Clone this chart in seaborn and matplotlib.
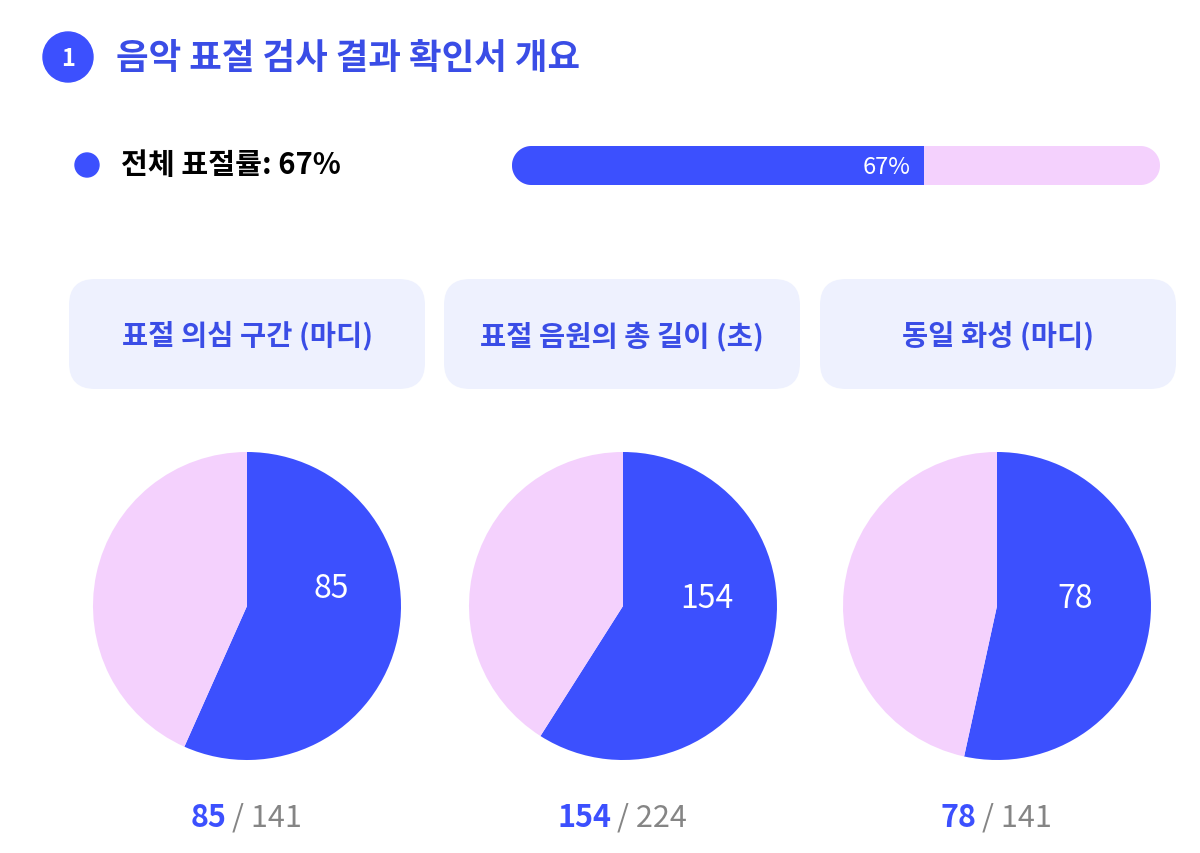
import matplotlib
matplotlib.use("Agg")
import numpy as np
import matplotlib.pyplot as plt
import seaborn as sns
import pandas as pd
from matplotlib.patches import FancyBboxPatch, Circle, Polygon
from matplotlib.offsetbox import TextArea, HPacker, AnnotationBbox

# 데이터
title = "음악 표절 검사 결과 확인서 개요"
overall_label = "전체 표절률"
overall_rate = 67
categories = ["표절 의심 구간 (마디)", "표절 음원의 총 길이 (초)", "동일 화성 (마디)"]
matched = [85, 154, 78]
totals = [141, 224, 141]
pie_rest = [65, 107, 68]  # 그림의 부채꼴 각도에서 읽은 값

# 색상
BLUE = "#3C50FE"
PINK = "#F4D1FD"
BOX = "#EEF1FE"
TEXT_BLUE = "#3A4DE6"
GRAY = "#858585"

sns.set_theme(style="white")
plt.rcParams["font.family"] = ["Noto Sans CJK KR", "DejaVu Sans"]

W, H = 1200, 854
fig = plt.figure(figsize=(W / 100, H / 100), dpi=100)
fig.patch.set_facecolor("white")

# 배경 축 (픽셀 좌표)
bg = fig.add_axes([0, 0, 1, 1])
bg.set_xlim(0, W)
bg.set_ylim(H, 0)
bg.axis("off")

# 제목
bg.add_patch(Circle((68, 58), 25, color=BLUE))
bg.text(68, 59, "1", color="white", fontsize=17, fontweight="bold", ha="center", va="center")
bg.text(116, 59, title, color=TEXT_BLUE, fontsize=25.5, fontweight="bold", ha="left", va="center")

# 전체 표절률
bg.add_patch(Circle((87, 166), 12, color=BLUE))
bg.text(121, 165, f"{overall_label}: {overall_rate}%", color="black", fontsize=21,
        fontweight="bold", ha="left", va="center")


def pill(x0, y0, w, h):
    rr = h / 2
    cy = y0 + rr
    t1 = np.linspace(np.pi / 2, 3 * np.pi / 2, 60)
    t2 = np.linspace(-np.pi / 2, np.pi / 2, 60)
    left = np.column_stack([x0 + rr + rr * np.cos(t1), cy - rr * np.sin(t1)])
    right = np.column_stack([x0 + w - rr + rr * np.cos(t2), cy - rr * np.sin(t2)])
    return np.vstack([left[::-1], right[::-1]])


# 진행 막대
bx, by, bw, bh = 512, 147, 648, 39
fill_px = 412
bg.add_patch(Polygon(pill(bx, by, bw, bh), closed=True, facecolor=PINK, edgecolor="none"))
clip = Polygon(pill(bx, by, bw, bh), closed=True, transform=bg.transData,
               facecolor="none", edgecolor="none")

bar_ax = fig.add_axes([bx / W, (H - by - bh) / H, bw / W, bh / H])
bar_ax.patch.set_alpha(0)
bar_df = pd.DataFrame({"rate": [overall_rate], "row": ["전체"]})
sns.barplot(data=bar_df, x="rate", y="row", orient="h", color=BLUE, width=1,
            saturation=1, linewidth=0, ax=bar_ax)
for p in bar_ax.patches:
    p.set_clip_path(clip)
bar_ax.set_xlim(0, overall_rate * bw / fill_px)
bar_ax.set_ylim(0.5, -0.5)
bar_ax.axis("off")
bar_ax.annotate(f"{overall_rate}%", (overall_rate, 0), xytext=(-10, -1), textcoords="offset points",
                color="white", fontsize=17, ha="right", va="center")

# 카테고리 상자
box_x = [69, 444, 820]
box_w, box_y, box_h = 356, 280, 110
for x0, cat in zip(box_x, categories):
    bg.add_patch(FancyBboxPatch((x0, box_y), box_w, box_h, boxstyle="round,pad=0,rounding_size=26",
                                facecolor=BOX, edgecolor="none"))
    bg.text(x0 + box_w / 2, box_y + box_h / 2 + 1, cat, color=TEXT_BLUE, fontsize=20.5,
            fontweight="bold", ha="center", va="center")

# 원형 차트
pie_cx = [247, 623, 997]
pie_cy, r = 607, 154
label_xy = [(0.55, 0.12), (0.545, 0.05), (0.51, 0.05)]
for i in range(3):
    ax = fig.add_axes([(pie_cx[i] - r) / W, (H - pie_cy - r) / H, 2 * r / W, 2 * r / H])
    ax.pie([matched[i], pie_rest[i]], colors=[BLUE, PINK], startangle=90, counterclock=False,
           wedgeprops=dict(linewidth=0))
    ax.set_xlim(-1, 1)
    ax.set_ylim(-1, 1)
    ax.set_aspect("equal")
    ax.axis("off")
    ax.text(label_xy[i][0], label_xy[i][1], str(matched[i]), color="white", fontsize=23,
            fontweight="medium", ha="center", va="center")

    # 아래 수치
    num = TextArea(str(matched[i]), textprops=dict(color=BLUE, fontsize=22, fontweight="bold"))
    tot = TextArea(f"/ {totals[i]}", textprops=dict(color=GRAY, fontsize=22, fontweight="medium"))
    pack = HPacker(children=[num, tot], pad=0, sep=4, align="baseline")
    bg.add_artist(AnnotationBbox(pack, (pie_cx[i] - 1, 818), xycoords="data", frameon=False,
                                 box_alignment=(0.5, 0.5)))

fig.savefig("out.png", dpi=100, facecolor="white")
